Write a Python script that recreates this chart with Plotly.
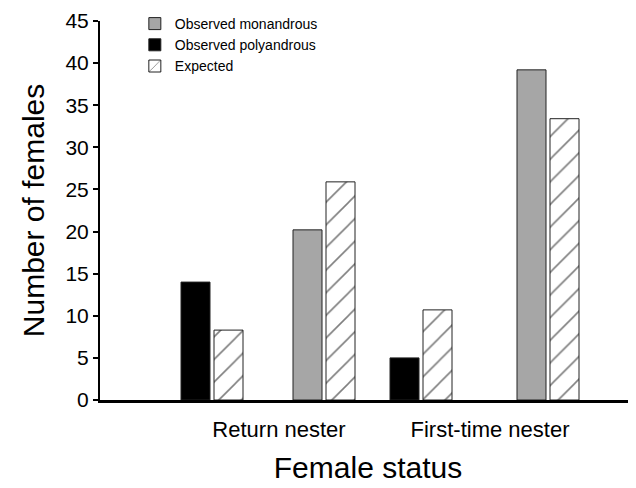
import plotly.graph_objects as go

# Data
group_labels = ["Return nester", "First-time nester"]
observed_polyandrous = [14.0, 5.0]
observed_monandrous = [20.2, 39.2]
expected = [8.3, 25.9, 10.7, 33.4]  # order: RN poly, RN mono, FT poly, FT mono

# positions of the four bar pairs along the x axis (axis units)
poly_pos = [1.12, 3.21]
mono_pos = [2.24, 4.48]
pair_pos = [1.12, 2.24, 3.21, 4.48]
label_pos = [1.79, 3.90]

W = 0.29
obs_off = -0.31
exp_off = 0.02
line = dict(color="#222222", width=1)

fig = go.Figure()
fig.add_trace(go.Bar(
    name="Observed monandrous", x=mono_pos, y=observed_monandrous,
    width=W, offset=obs_off, marker=dict(color="#A6A6A6", line=line),
))
fig.add_trace(go.Bar(
    name="Observed polyandrous", x=poly_pos, y=observed_polyandrous,
    width=W, offset=obs_off, marker=dict(color="#000000", line=line),
))
fig.add_trace(go.Bar(
    name="Expected", x=pair_pos, y=expected,
    width=W, offset=exp_off,
    marker=dict(color="white", line=line,
                pattern=dict(shape="/", fgcolor="#000000", bgcolor="white",
                             size=16, solidity=0.1)),
))

font_family = "Liberation Sans, Arial, sans-serif"
fig.update_layout(
    width=628, height=480,
    margin=dict(l=92, r=0, t=10, b=88),
    paper_bgcolor="white", plot_bgcolor="white",
    barmode="overlay",
    font=dict(family=font_family, color="#000000"),
    showlegend=True,
    legend=dict(x=0.065, y=1.035, xanchor="left", yanchor="top",
                bgcolor="rgba(0,0,0,0)", font=dict(size=14),
                tracegroupgap=0, itemwidth=30),
    xaxis=dict(
        range=[0, 5.36], tickvals=label_pos, ticktext=group_labels,
        showgrid=False, zeroline=False, showline=True, linecolor="#000000",
        linewidth=3, ticks="", tickfont=dict(size=22),
        ticklabelstandoff=8,
        title=dict(text="Female status", font=dict(size=30), standoff=16),
    ),
    yaxis=dict(
        range=[0, 45], dtick=5, showgrid=False, zeroline=False,
        showline=True, linecolor="#000000", linewidth=2,
        ticks="outside", ticklen=5, tickwidth=1.5, tickcolor="#000000",
        tickfont=dict(size=21),
        title=dict(text="Number of females", font=dict(size=30), standoff=12),
    ),
)

fig.write_html("out.html")
